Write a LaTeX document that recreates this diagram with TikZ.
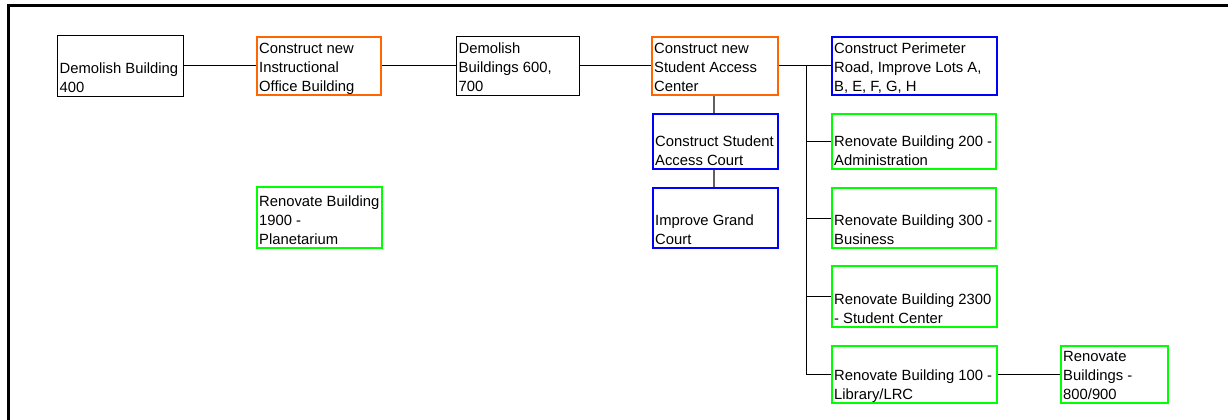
\documentclass[tikz,border=0pt]{standalone}
\usepackage{fontspec}
\setmainfont{Liberation Sans}
\usetikzlibrary{calc}
\definecolor{borange}{HTML}{FF6600}
\definecolor{bblue}{HTML}{0000FF}
\definecolor{bgreen}{HTML}{00FF00}
\definecolor{cgray}{HTML}{606060}
\tikzset{
  box/.style={draw, rectangle, inner sep=0pt},
  blackbox/.style={box, draw=black, line width=1pt},
  orangebox/.style={box, draw=borange, line width=2pt},
  bluebox/.style={box, draw=bblue, line width=2pt},
  greenbox/.style={box, draw=bgreen, line width=2pt},
  txt/.style={inner sep=0pt, align=left, anchor=south west, text depth=0pt,
    font=\fontsize{14.8}{19}\selectfont},
  conn/.style={draw=black, line width=1pt},
  gconn/.style={draw=cgray, line width=2pt},
}
\newcommand{\boxtext}[2]{\node[txt] (#1t) at ($(#1.south west)+(3,-4)$) {#2};}
\begin{document}
\begin{tikzpicture}[x=1pt,y=-1pt]
\useasboundingbox (0,0) rectangle (1228,420);
\draw[line width=3pt] (8.5,420) -- (8.5,5.5) -- (1228,5.5);

\node[blackbox, minimum width=126pt, minimum height=60pt] (A) at (120,66) {};
\node[orangebox, minimum width=124pt, minimum height=58pt] (B) at (319,66) {};
\node[blackbox, minimum width=123pt, minimum height=58pt] (C) at (517.5,66) {};
\node[orangebox, minimum width=126pt, minimum height=58pt] (D) at (715,66) {};
\node[bluebox, minimum width=165pt, minimum height=58pt] (E) at (914.5,66) {};
\node[bluebox, minimum width=125pt, minimum height=55pt] (F) at (715.5,141.5) {};
\node[bluebox, minimum width=125pt, minimum height=60pt] (G) at (715.5,218) {};
\node[greenbox, minimum width=164pt, minimum height=55pt] (H) at (914,141.5) {};
\node[greenbox, minimum width=164pt, minimum height=60pt] (I) at (914,218) {};
\node[greenbox, minimum width=165pt, minimum height=61pt] (J) at (914.5,296.5) {};
\node[greenbox, minimum width=165pt, minimum height=57pt] (K) at (914.5,374.5) {};
\node[greenbox, minimum width=107pt, minimum height=57pt] (L) at (1114.5,374.5) {};
\node[greenbox, minimum width=125pt, minimum height=61pt] (M) at (319.5,217.5) {};

\boxtext{A}{Demolish Building\\400}
\boxtext{B}{Construct new\\Instructional\\Office Building}
\boxtext{C}{Demolish\\Buildings 600,\\700}
\boxtext{D}{Construct new\\Student Access\\Center}
\boxtext{E}{Construct Perimeter\\Road, Improve Lots A,\\B, E, F, G, H}
\boxtext{F}{Construct Student\\Access Court}
\boxtext{G}{Improve Grand\\Court}
\boxtext{H}{Renovate Building 200 -\\Administration}
\boxtext{I}{Renovate Building 300 -\\Business}
\boxtext{J}{Renovate Building 2300\\- Student Center}
\boxtext{K}{Renovate Building 100 -\\Library/LRC}
\boxtext{L}{Renovate\\Buildings -\\800/900}
\boxtext{M}{Renovate Building\\1900 -\\Planetarium}

\draw[conn] (A.east) -- (B.west);
\draw[conn] (B.east) -- (C.west);
\draw[conn] (C.east) -- (D.west);
\draw[conn] (D.east) -- (E.west);
\coordinate (T) at (806,66);
\draw[conn] (T) |- (K.west);
\draw[conn] (T |- H.west) -- (H.west);
\draw[conn] (T |- I.west) -- (I.west);
\draw[conn] (T |- J.west) -- (J.west);
\draw[conn] (K.east) -- (L.west);
\coordinate (V) at (714,0);
\draw[gconn] (V |- D.south) -- (V |- F.north);
\draw[gconn] (V |- F.south) -- (V |- G.north);
\end{tikzpicture}
\end{document}
